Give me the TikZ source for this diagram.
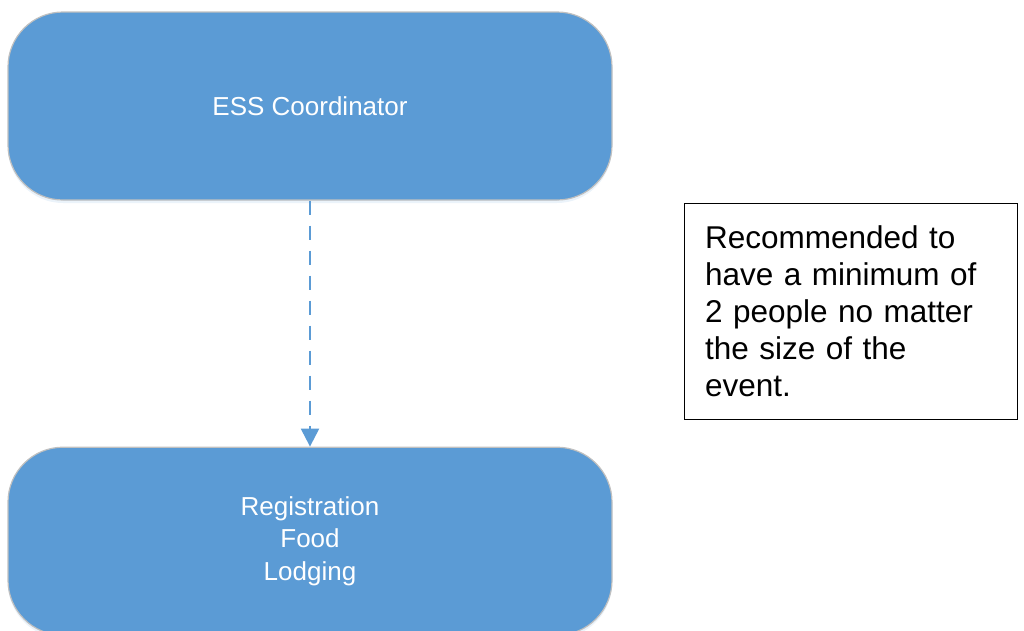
\documentclass[tikz,border=0pt]{standalone}
\usepackage{fontspec}
\setmainfont{Liberation Sans}
\usetikzlibrary{arrows.meta, positioning, shadows}
\definecolor{boxblue}{HTML}{5B9BD5}
\definecolor{boxedge}{HTML}{C0C0C0}

\begin{document}
\begin{tikzpicture}[x=1pt, y=-1pt]
	\tikzset{role/.style={rectangle, rounded corners=55pt, fill=boxblue, draw=boxedge, line width=1.2pt, minimum width=604pt, minimum height=188pt, text=white, align=center, font=\fontsize{26}{32.5}\selectfont, drop shadow={opacity=0.12, fill=boxblue, shadow xshift=0pt, shadow yshift=-3pt}},
		note/.style={rectangle, draw=black, line width=1pt, minimum width=333pt, minimum height=216pt, text width=291pt, inner xsep=21pt, align=left, font=\fontsize{31.5}{37}\selectfont},
		link/.style={-{Triangle[length=18pt, width=18pt]}, boxblue, line width=2.2pt, dash pattern=on 14pt off 11pt}}
	
	\useasboundingbox (0,0) rectangle (1024,630);
	\node[role] (coord) at (310,106) {ESS Coordinator};
	\node[role, below=246pt of coord] (tasks) {Registration\\Food\\Lodging};
	\node[note, below right=2pt and 71pt of coord.south east] (rule) {Recommended to\\have a minimum of\\2 people no matter\\the size of the\\event.};
	
	\draw[link] (coord) -- (tasks);
\end{tikzpicture}
\end{document}
